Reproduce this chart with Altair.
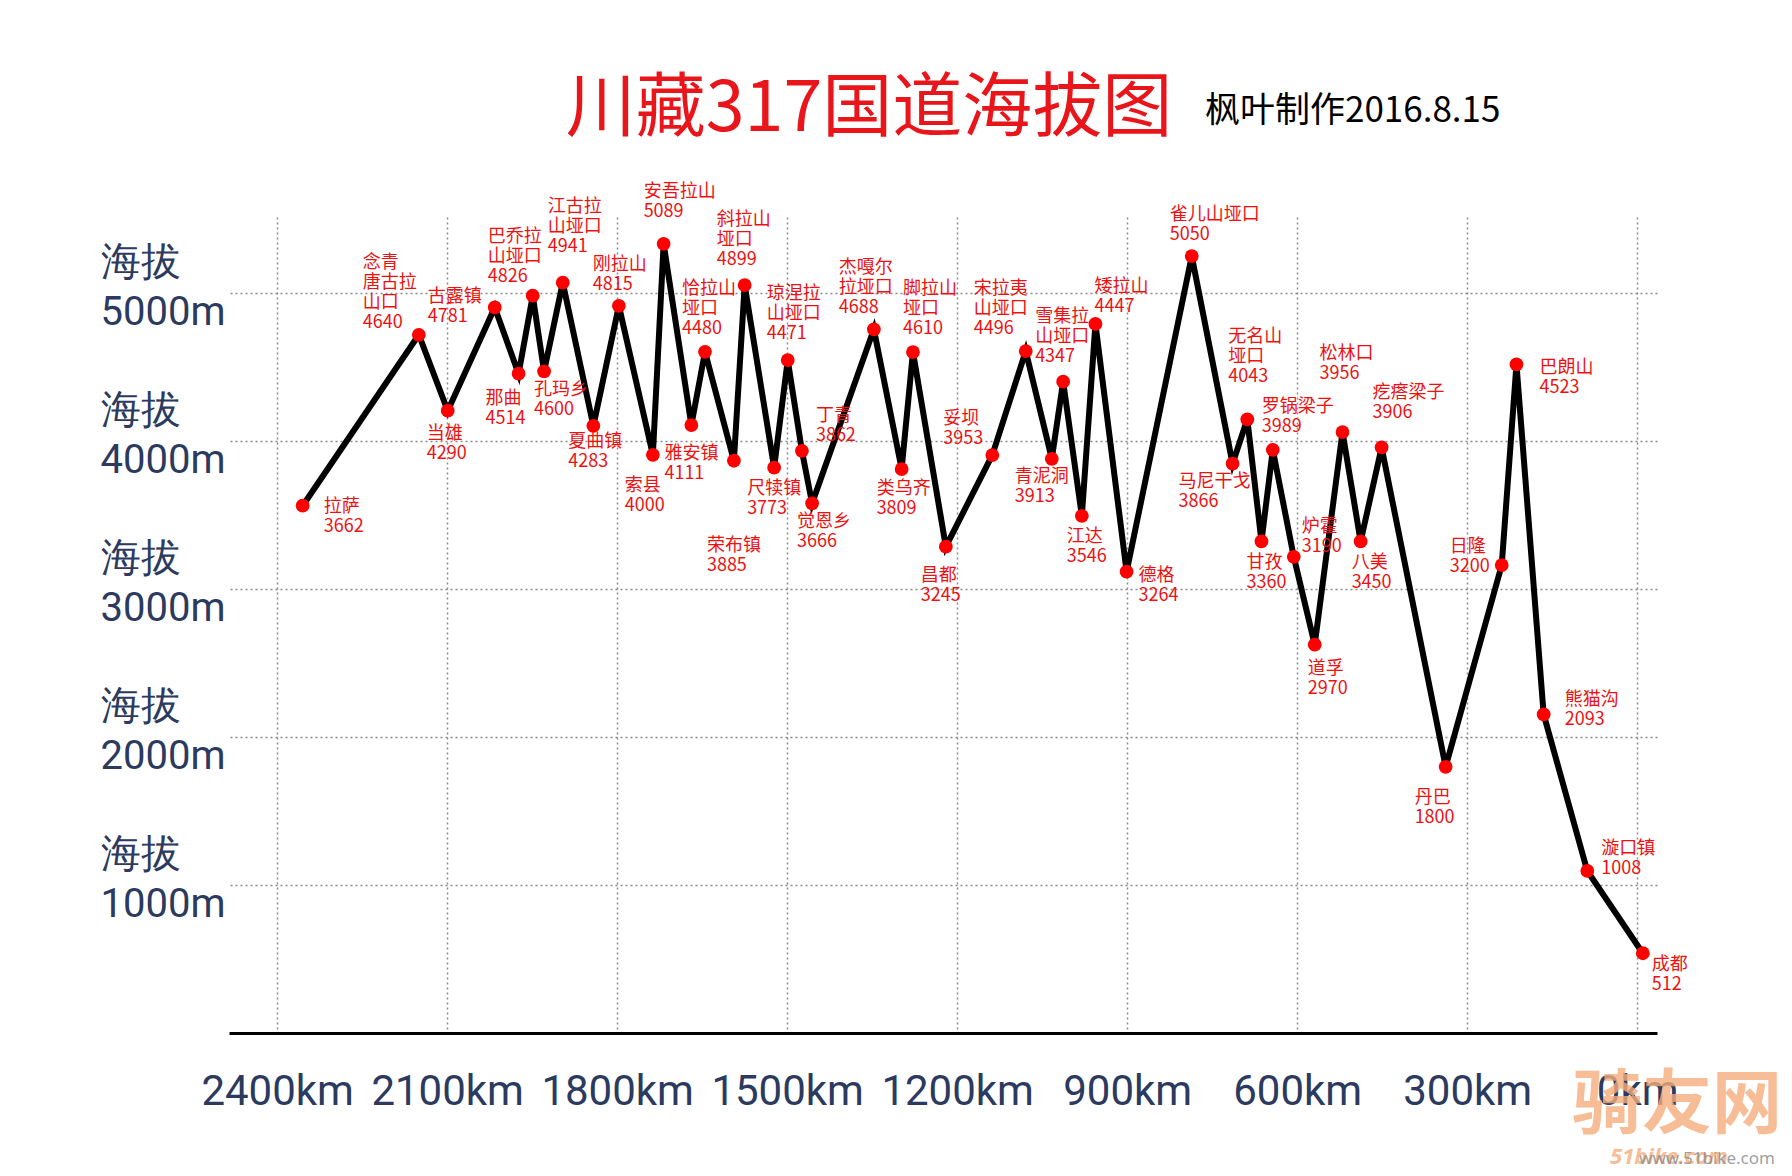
import altair as alt
import pandas as pd

# ---------------- data ----------------
names = [
    "拉萨", "念青\n唐古拉\n山口", "当雄", "古露镇", "那曲", "巴乔拉\n山垭口", "孔玛乡",
    "江古拉\n山垭口", "夏曲镇", "刚拉山", "索县", "安吾拉山", "雅安镇", "恰拉山\n垭口",
    "荣布镇", "斜拉山\n垭口", "尺犊镇", "琼涅拉\n山垭口", "丁青", "觉恩乡", "杰嘎尔\n拉垭口",
    "类乌齐", "脚拉山\n垭口", "昌都", "妥坝", "宋拉夷\n山垭口", "青泥洞", "雪集拉\n山垭口",
    "江达", "矮拉山", "德格", "雀儿山垭口", "马尼干戈", "无名山\n垭口", "甘孜", "罗锅梁子",
    "炉霍", "道孚", "松林口", "八美", "疙瘩梁子", "丹巴", "日隆", "巴朗山", "熊猫沟",
    "漩口镇", "成都",
]
# distance to Chengdu (km)
km = [2355, 2150, 2099, 2016, 1974, 1949, 1929, 1896, 1842, 1797, 1737, 1718, 1669, 1645,
      1594, 1575, 1523, 1499, 1474, 1456, 1347, 1298, 1278, 1220, 1138, 1079, 1033, 1013,
      980, 956, 901, 786, 714, 688, 663, 643, 606, 569, 520, 488, 451, 338, 239, 213, 165,
      88, -10]
# where each dot sits on the altitude axis (m)
elev_drawn = [3563, 4718, 4205, 4903, 4455, 4982, 4471, 5070, 4103, 4914, 3907, 5333, 4108,
              4603, 3867, 5054, 3820, 4547, 3934, 3579, 4755, 3811, 4601, 3286, 3905, 4608,
              3880, 4401, 3495, 4791, 3117, 5250, 3847, 4147, 3322, 3941, 3218, 2624, 4061,
              3322, 3957, 1799, 3162, 4518, 2153, 1095, 539]
# altitude written in each label (m)
elev_label = [3662, 4640, 4290, 4781, 4514, 4826, 4600, 4941, 4283, 4815, 4000, 5089, 4111,
              4480, 3885, 4899, 3773, 4471, 3862, 3666, 4688, 3809, 4610, 3245, 3953, 4496,
              3913, 4347, 3546, 4447, 3264, 5050, 3866, 4043, 3360, 3989, 3190, 2970, 3956,
              3450, 3906, 1800, 3200, 4523, 2093, 1008, 512]

x_ticks = [2400, 2100, 1800, 1500, 1200, 900, 600, 300, 0]
y_ticks = [1000, 2000, 3000, 4000, 5000]

# ---------------- layout ----------------
W, H = 1428, 816
X_DOMAIN = [-35, 2485]
Y_DOMAIN = [0, 5514]
px_per_km = W / (X_DOMAIN[1] - X_DOMAIN[0])
px_per_m = H / (Y_DOMAIN[1] - Y_DOMAIN[0])

# label block placement (top-left corner relative to the dot, in px)
label_nudge = [
    (21, -6), (-56, -79), (-21, 16), (-67, -17), (-33, 18), (-45, -66), (-10, 12),
    (-15, -83), (-25, 9), (-26, -48), (-28, 24), (-20, -59), (-27, 22), (-23, -70),
    (-27, 78), (-28, -72), (-27, 14), (-21, -73), (14, -42), (-15, 12), (-35, -68),
    (-25, 13), (-10, -70), (-25, 22), (-49, -43), (-52, -69), (-37, 11), (-28, -72),
    (-15, 14), (-1, -44), (12, -3), (-22, -48), (-54, 11), (-19, -89), (-15, 15),
    (-11, -50), (8, -37), (-7, 17), (-23, -85), (-9, 15), (-9, -61), (-31, 24),
    (-52, -25), (23, -3), (21, -21), (14, -29), (9, 5),
]

df = pd.DataFrame({"name": names, "km": km, "alt": elev_drawn, "val": elev_label})
df["label"] = [f"{n}\n{v}" for n, v in zip(names, elev_label)]
df["lx"] = [k - d[0] / px_per_km for k, d in zip(km, label_nudge)]
df["ly"] = [a - (d[1] - 2) / px_per_m for a, d in zip(elev_drawn, label_nudge)]

NAVY = "#2b3a5e"
RED = "#ee1111"

xscale = alt.Scale(domain=X_DOMAIN, reverse=True, nice=False, zero=False)
yscale = alt.Scale(domain=Y_DOMAIN, nice=False, zero=True)

x_axis = alt.Axis(
    values=x_ticks, labelExpr="datum.value + 'km'", title=None,
    grid=True, gridDash=[2, 3], gridColor="#8a8a8a", gridWidth=1.5,
    ticks=False, domain=True, domainColor="black", domainWidth=3,
    labelFont="Roboto", labelFontSize=42, labelColor=NAVY, labelPadding=38,
    labelFlush=False, labelOverlap=False,
)
y_axis = alt.Axis(
    values=y_ticks, labelExpr="['海拔', datum.value + 'm']", title=None,
    grid=True, gridDash=[2, 3], gridColor="#8a8a8a", gridWidth=1.5,
    ticks=False, domain=False,
    labelFont="Roboto", labelFontSize=40, labelColor=NAVY, labelAlign="left",
    labelBaseline="middle", labelLineHeight=50, labelPadding=129, labelOffset=-31,
    labelOverlap=False, labelFlush=False,
)

base = alt.Chart(df)

line = base.mark_line(color="black", strokeWidth=6, strokeJoin="miter").encode(
    x=alt.X("km:Q", scale=xscale, axis=x_axis, title=None),
    y=alt.Y("alt:Q", scale=yscale, axis=y_axis, title=None),
    order=alt.Order("km:Q", sort="descending"),
)

dots = base.mark_circle(size=190, color="#ff0000", opacity=1).encode(
    x=alt.X("km:Q", scale=xscale, axis=x_axis, title=None),
    y=alt.Y("alt:Q", scale=yscale, axis=y_axis, title=None),
)

labels = base.mark_text(
    align="left", baseline="top", lineBreak="\n", lineHeight=20,
    font="Noto Sans CJK SC", fontSize=18, color=RED,
).encode(
    x=alt.X("lx:Q", scale=xscale, axis=x_axis, title=None),
    y=alt.Y("ly:Q", scale=yscale, axis=y_axis, title=None),
    text="label:N",
)

title = alt.Chart(pd.DataFrame({"t": ["川藏317国道海拔图"]})).mark_text(
    align="center", baseline="middle", font="Noto Sans CJK SC", fontSize=70,
    color="#e8161b",
).encode(x=alt.value(640), y=alt.value(-107), text="t:N")

subtitle = alt.Chart(pd.DataFrame({"t": ["枫叶制作2016.8.15"]})).mark_text(
    align="left", baseline="middle", font="Noto Sans CJK SC", fontSize=35, color="black",
).encode(x=alt.value(976), y=alt.value(-106), text="t:N")

wm1 = alt.Chart(pd.DataFrame({"t": ["骑友网"]})).mark_text(
    align="center", baseline="middle", font="Noto Sans CJK SC", fontSize=70,
    fontWeight="bold", color="#f5ad7c", opacity=0.8,
).encode(x=alt.value(1448), y=alt.value(890), text="t:N")

wm2 = alt.Chart(pd.DataFrame({"t": ["51bike.com"]})).mark_text(
    align="center", baseline="middle", font="Noto Sans", fontSize=22, fontStyle="italic",
    fontWeight="bold", color="#f5ad7c", opacity=0.8,
).encode(x=alt.value(1440), y=alt.value(940), text="t:N")

wm3 = alt.Chart(pd.DataFrame({"t": ["www.51bike.com"]})).mark_text(
    align="center", baseline="middle", font="Noto Sans", fontSize=17,
    color="#8a8a8a", opacity=0.8,
).encode(x=alt.value(1478), y=alt.value(942), text="t:N")

chart = alt.layer(line, dots, labels, title, subtitle, wm1, wm2, wm3).properties(
    width=W, height=H,
    padding={"left": 221, "top": 209, "right": 127, "bottom": 142},
    autosize=alt.AutoSizeParams(type="none"),
    background="white",
).configure_view(stroke=None)

chart.save("out.html", embed_options={"renderer": "svg", "actions": False})
